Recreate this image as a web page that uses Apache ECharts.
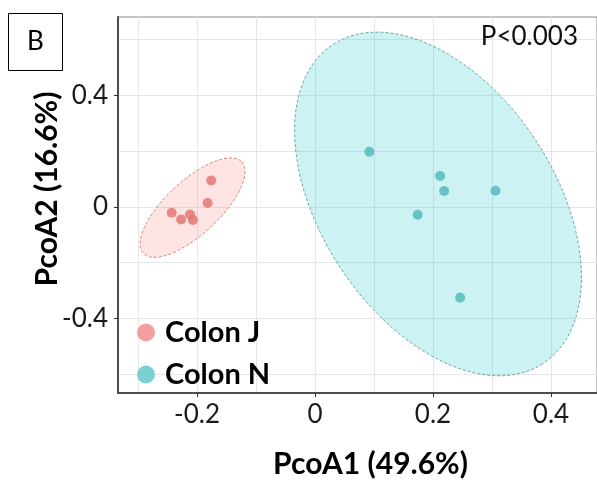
<!DOCTYPE html>
<html>
<head>
<meta charset="utf-8">
<title>PCoA Colon J / Colon N</title>
<script src="https://cdn.jsdelivr.net/npm/echarts@6/dist/echarts.min.js"></script>
<style>
html, body { margin: 0; padding: 0; background: #fff; }
#chart { width: 597px; height: 484px; }
</style>
</head>
<body>
<div id="chart"></div>
<script>
// sample scores [PcoA1, PcoA2]
var colonJ = [[-0.176, 0.095], [-0.182, 0.014], [-0.243, -0.021], [-0.227, -0.045], [-0.212, -0.027], [-0.207, -0.047]];
var colonN = [[0.092, 0.198], [0.212, 0.111], [0.219, 0.057], [0.306, 0.058], [0.174, -0.028], [0.246, -0.325]];
// ellipses: centre, half-axis u, half-axis v (data units)
var ellipseJ = [[-0.2076, -0.0025], [0.0834, 0.164], [0.031, -0.0697]];
var ellipseN = [[0.2085, 0.0107], [0.1776, -0.5726], [-0.1661, -0.2274]];
// ticks
var xLabels = [-0.2, 0, 0.2, 0.4];
var xGrid = [-0.3, -0.2, -0.1, 0, 0.1, 0.2, 0.3, 0.4];
var yLabels = [-0.4, 0, 0.4];
var yGrid = [-0.6, -0.4, -0.2, 0, 0.2, 0.4, 0.6];

var FONT = 'Lato';
var xMin = -0.334, xMax = 0.478, yMin = -0.667, yMax = 0.681;

function flat(e) { return [e[0][0], e[0][1], e[1][0], e[1][1], e[2][0], e[2][1]]; }

// ellipse outline drawn through the axis scales
function ellipseRender(fill, stroke) {
  return function (params, api) {
    var pts = [];
    for (var i = 0; i <= 120; i++) {
      var t = i / 120 * Math.PI * 2;
      var c = Math.cos(t), s = Math.sin(t);
      pts.push(api.coord([
        api.value(0) + api.value(2) * c + api.value(4) * s,
        api.value(1) + api.value(3) * c + api.value(5) * s
      ]));
    }
    return {
      type: 'polygon',
      shape: { points: pts },
      style: { fill: fill, stroke: stroke, lineWidth: 1, lineDash: [3, 2] }
    };
  };
}

var myChart = echarts.init(document.getElementById('chart'));
myChart.setOption({
  animation: false,
  title: [{
    text: 'P<0.003',
    right: 19,
    top: 24,
    padding: 0,
    textStyle: { fontFamily: FONT, fontSize: 26, fontWeight: 'normal', color: '#111' }
  }],
  graphic: [
    { type: 'rect', shape: { x: 8.5, y: 13.5, width: 54, height: 57 }, style: { fill: '#fff', stroke: '#000', lineWidth: 1 } },
    { type: 'text', x: 35.5, y: 42, style: { text: 'B', fontFamily: FONT, fontSize: 26, fill: '#000', align: 'center', verticalAlign: 'middle' } }
  ],
  legend: {
    orient: 'vertical',
    left: 137,
    top: 318,
    padding: 0,
    icon: 'circle',
    itemWidth: 18,
    itemHeight: 18,
    itemGap: 13,
    data: [
      { name: 'Colon J', itemStyle: { color: '#f08784' } },
      { name: 'Colon N', itemStyle: { color: '#5cc4c7' } }
    ],
    textStyle: { fontFamily: FONT, fontSize: 29, fontWeight: 'bold', color: '#000', lineHeight: 22, padding: [0, 0, 0, 5] }
  },
  grid: {
    left: 118, right: 0, top: 17, bottom: 88,
    show: true, borderColor: '#8a8a8a', borderWidth: 1
  },
  xAxis: [{
    type: 'value', min: xMin, max: xMax,
    name: 'PcoA1 (49.6%)', nameLocation: 'middle', nameGap: 56, nameMoveOverlap: false,
    nameTextStyle: { fontFamily: FONT, fontSize: 30, fontWeight: 'bold', color: '#000', padding: [0, 0, 0, 26] },
    axisLine: { show: true, onZero: false, lineStyle: { color: '#4d4d4d', width: 2 } },
    axisTick: { show: true, length: 4, customValues: xLabels, lineStyle: { color: '#333' } },
    axisLabel: { customValues: xLabels, margin: 9, fontFamily: FONT, fontSize: 26, color: '#1a1a1a' },
    splitLine: { show: false }
  }, {
    type: 'value', min: xMin, max: xMax,
    axisLine: { show: false }, axisLabel: { show: false },
    axisTick: { show: false, customValues: xGrid },
    splitLine: { show: true, lineStyle: { color: '#e6e6e6', width: 1 } }
  }],
  yAxis: [{
    type: 'value', min: yMin, max: yMax,
    name: 'PcoA2 (16.6%)', nameLocation: 'middle', nameGap: 56, nameMoveOverlap: false,
    nameTextStyle: { fontFamily: FONT, fontSize: 30, fontWeight: 'bold', color: '#000', padding: [0, 0, 0, 32] },
    axisLine: { show: true, onZero: false, lineStyle: { color: '#4d4d4d', width: 2 } },
    axisTick: { show: true, length: 4, customValues: yLabels, lineStyle: { color: '#333' } },
    axisLabel: { customValues: yLabels, margin: 10, fontFamily: FONT, fontSize: 26, color: '#1a1a1a' },
    splitLine: { show: false }
  }, {
    type: 'value', min: yMin, max: yMax,
    axisLine: { show: false }, axisLabel: { show: false },
    axisTick: { show: false, customValues: yGrid },
    splitLine: { show: true, lineStyle: { color: '#e6e6e6', width: 1 } }
  }],
  series: [
    {
      name: 'ellipse J', type: 'custom', silent: true,
      renderItem: ellipseRender('rgba(248,118,109,0.2)', '#c98580'),
      data: [flat(ellipseJ)], z: 1
    },
    {
      name: 'ellipse N', type: 'custom', silent: true,
      renderItem: ellipseRender('rgba(0,191,196,0.2)', '#6fa3a6'),
      data: [flat(ellipseN)], z: 1
    },
    {
      name: 'Colon J', type: 'scatter', symbolSize: 10, z: 3,
      itemStyle: { color: '#e4716d' },
      data: colonJ
    },
    {
      name: 'Colon N', type: 'scatter', symbolSize: 10, z: 3,
      itemStyle: { color: '#4cb9bc' },
      data: colonN
    }
  ]
});
</script>
</body>
</html>
